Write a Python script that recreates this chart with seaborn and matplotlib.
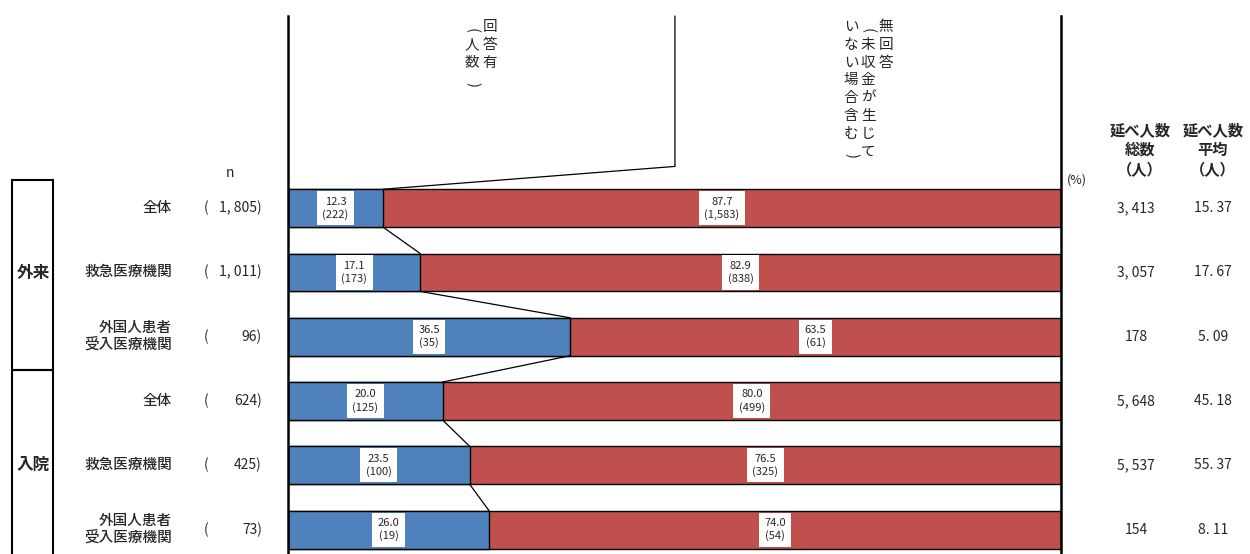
import matplotlib
matplotlib.use("Agg")
import matplotlib.pyplot as plt
import seaborn as sns
import pandas as pd
from matplotlib.patches import Rectangle

sns.set_style("white")
plt.rcParams['font.family'] = ['Noto Sans CJK JP', 'DejaVu Sans']

# ---------------------
# Data
# ---------------------
groups = ['外来', '入院']
categories = ['全体', '救急医療機関', '外国人患者\n受入医療機関',
              '全体', '救急医療機関', '外国人患者\n受入医療機関']
n_total = [1805, 1011, 96, 624, 425, 73]
pct_yes = [12.3, 17.1, 36.5, 20.0, 23.5, 26.0]
pct_no = [87.7, 82.9, 63.5, 80.0, 76.5, 74.0]
cnt_yes = [222, 173, 35, 125, 100, 19]
cnt_no = [1583, 838, 61, 499, 325, 54]
people_total = ['3, 413', '3, 057', '178', '5, 648', '5, 537', '154']
people_avg = ['15. 37', '17. 67', '5. 09', '45. 18', '55. 37', '8. 11']
header_total = ['延べ人数', '総数', '（人）']
header_avg = ['延べ人数', '平均', '（人）']

BLUE = '#4F81BD'
RED = '#C0504D'

df = pd.DataFrame({'row': [str(i) for i in range(6)],
                   'yes': pct_yes, 'full': [y + n for y, n in zip(pct_yes, pct_no)]})

W, H = 1250, 554
fig = plt.figure(figsize=(W / 100, H / 100), dpi=100)

def fx(px):
    return px / W

def fy(py):
    return 1 - py / H

ax = fig.add_axes([fx(288), 0, fx(1061) - fx(288), fy(16)])

bh = 0.59
sns.barplot(data=df, x='full', y='row', color=RED, saturation=1, width=bh,
            edgecolor='black', linewidth=1, ax=ax, orient='h')
sns.barplot(data=df, x='yes', y='row', color=BLUE, saturation=1, width=bh,
            edgecolor='black', linewidth=1, ax=ax, orient='h')

ax.set_xlim(0, 100)
ax.set_ylim(5.38, -2.99)
ax.set_xlabel('')
ax.set_ylabel('')
ax.set_xticks([])
ax.set_yticks([])
for s in ['top', 'bottom']:
    ax.spines[s].set_visible(False)
for s in ['left', 'right']:
    ax.spines[s].set_color('black')
    ax.spines[s].set_linewidth(1.8)

# segment labels
box = dict(boxstyle='square,pad=0.5', fc='white', ec='none')
for i in range(6):
    ax.text(pct_yes[i] / 2, i, f'{pct_yes[i]:.1f}\n({cnt_yes[i]:,})', ha='center',
            va='center', fontsize=8, bbox=box, linespacing=1.25)
    ax.text(pct_yes[i] + pct_no[i] / 2, i, f'{pct_no[i]:.1f}\n({cnt_no[i]:,})',
            ha='center', va='center', fontsize=8, bbox=box, linespacing=1.25)

# connector lines between bars
for i in range(5):
    ax.plot([pct_yes[i], pct_yes[i + 1]], [i + bh / 2, i + 1 - bh / 2],
            color='black', lw=0.9)
# header leader line
ax.plot([pct_yes[0], 50.06, 50.06], [-bh / 2, -0.65, -2.99],
        color='black', lw=0.9, clip_on=False)

# vertical header texts, one character at a time (columns read right to left)
def vcol(x, y, chars, step=17.8, size=10.5):
    for k, c in enumerate(chars):
        rot, dy = 0, 0
        if c in '()':
            rot, dy = -90, 4
        fig.text(fx(x), fy(y + k * step + dy), c, ha='center', va='center',
                 fontsize=size, rotation=rot, rotation_mode='anchor')

vcol(490, 27, '回答有')
vcol(472, 27, '(人数)')
vcol(886, 27, '無回答')
vcol(868, 27, '(未収金が生じて')
vcol(851, 27, 'いない場合含む)')

# left side labels
fig.text(fx(230), fy(173), 'n', ha='center', va='center', fontsize=10)
for i in range(6):
    ypix = 208 + i * 64.3
    fig.text(fx(172), fy(ypix), categories[i], ha='right', va='center',
             fontsize=10.5, linespacing=1.3, fontweight='medium')
    fig.text(fx(204), fy(ypix), '(', ha='left', va='center', fontsize=10)
    fig.text(fx(262), fy(ypix), f'{n_total[i]:,})'.replace(',', ', '),
             ha='right', va='center', fontsize=10)
    fig.text(fx(1136), fy(ypix), people_total[i], ha='center', va='center',
             fontsize=10)
    fig.text(fx(1213), fy(ypix), people_avg[i], ha='center', va='center',
             fontsize=10)

# group boxes
for g, (top, bot) in enumerate([(180, 370), (370, 560)]):
    fig.patches.append(Rectangle((fx(12), fy(bot)), fx(53) - fx(12),
                                 fy(top) - fy(bot), transform=fig.transFigure,
                                 fill=False, ec='black', lw=1.5))
    fig.text(fx(33), fy(273 if g == 0 else 465), groups[g], ha='center',
             va='center', fontsize=12, fontweight='bold')

# right headers
fig.text(fx(1077), fy(180), '(%)', ha='center', va='center', fontsize=9)
for k in range(3):
    fig.text(fx(1140), fy(130 + k * 20), header_total[k], ha='center',
             va='center', fontsize=11, fontweight='bold')
    fig.text(fx(1213), fy(130 + k * 20), header_avg[k], ha='center',
             va='center', fontsize=11, fontweight='bold')

fig.savefig('out.png', dpi=100)
